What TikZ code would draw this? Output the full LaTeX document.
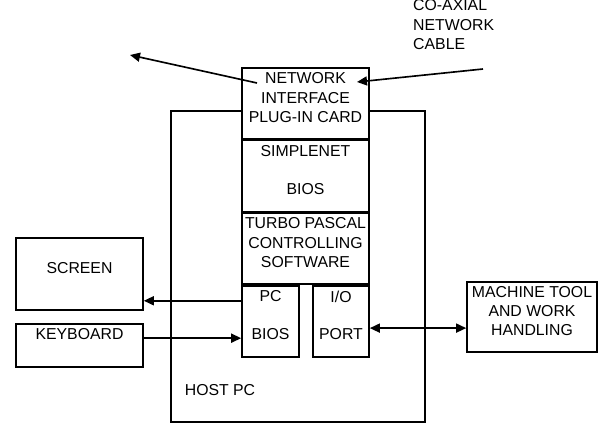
\documentclass[tikz,border=0pt]{standalone}
\usepackage{fontspec}
\setmainfont{Liberation Sans}
\usetikzlibrary{arrows.meta,positioning,calc}
\newcommand{\blkfont}{\fontsize{13.5}{16.6}\selectfont}

\begin{document}
\begin{tikzpicture}[x=0.03cm,y=-0.03cm,
  blk/.style={draw,fill=white,line width=1.4pt,inner sep=0pt,align=center,
    text depth=0.36cm,font=\blkfont},
  wire/.style={line width=1.4pt,-{Triangle[length=0.3cm,width=0.27cm]}},
  both/.style={line width=1.4pt,{Triangle[length=0.3cm,width=0.27cm]}-{Triangle[length=0.3cm,width=0.27cm]}}]
\useasboundingbox (0,0) rectangle (600,424);
% host pc frame
\node[draw,line width=1.4pt,minimum width=7.62cm,minimum height=9.33cm] (host) at (298,266.5) {};
\node[font=\blkfont] (hostpc) at (220,390) {HOST PC};
% software stack inside the host
\node[blk,minimum width=3.81cm,minimum height=2.13cm] (card) at (305.5,103.5)
  {NETWORK\\INTERFACE\\PLUG-IN CARD};
\node[blk,minimum width=3.81cm,minimum height=2.13cm,below=0pt of card] (simplenet)
  {SIMPLENET\\[15.8pt]BIOS};
\node[blk,minimum width=3.81cm,minimum height=2.13cm,below=0pt of simplenet] (turbo)
  {TURBO PASCAL\\CONTROLLING\\SOFTWARE};
\node[blk,minimum width=1.71cm,minimum height=2.13cm,anchor=north west] (pcbios) at (turbo.south west)
  {PC\\[15.8pt]BIOS};
\node[blk,minimum width=1.68cm,minimum height=2.13cm,anchor=north east] (ioport) at (turbo.south east)
  {I/O\\[15pt]PORT};
% outside devices
\node[blk,minimum width=3.81cm,minimum height=2.16cm] (screen) at (79.5,274) {SCREEN};
\node[blk,minimum width=3.81cm,minimum height=1.29cm,text depth=0.69cm] (keyboard) at (79.5,345.5) {KEYBOARD};
\node[blk,minimum width=3.9cm,minimum height=2.1cm] (machine) at (532,317)
  {MACHINE TOOL\\AND WORK\\HANDLING};
% network cable
\node[font=\blkfont,align=left,anchor=west,inner sep=0pt] (coax) at (413,25)
  {CO-AXIAL\\NETWORK\\CABLE};
\coordinate (netout) at (130,55);
\coordinate (netin) at (483,69);
\draw[wire] ([shift={(-48.5,-20.5)}]card.center) -- (netout);
\draw[wire] (netin) -- ([shift={(51.5,-21.5)}]card.center);
% links
\draw[wire] ([yshift=0.62cm]pcbios.west) -- ([yshift=0.62cm]pcbios.west -| screen.east);
\draw[wire] ([yshift=0.22cm]keyboard.east) -- ([yshift=0.22cm]keyboard.east -| pcbios.west);
\draw[both] ([yshift=-0.2cm]ioport.east) -- ([yshift=-0.2cm]ioport.east -| machine.west);
\end{tikzpicture}
\end{document}
